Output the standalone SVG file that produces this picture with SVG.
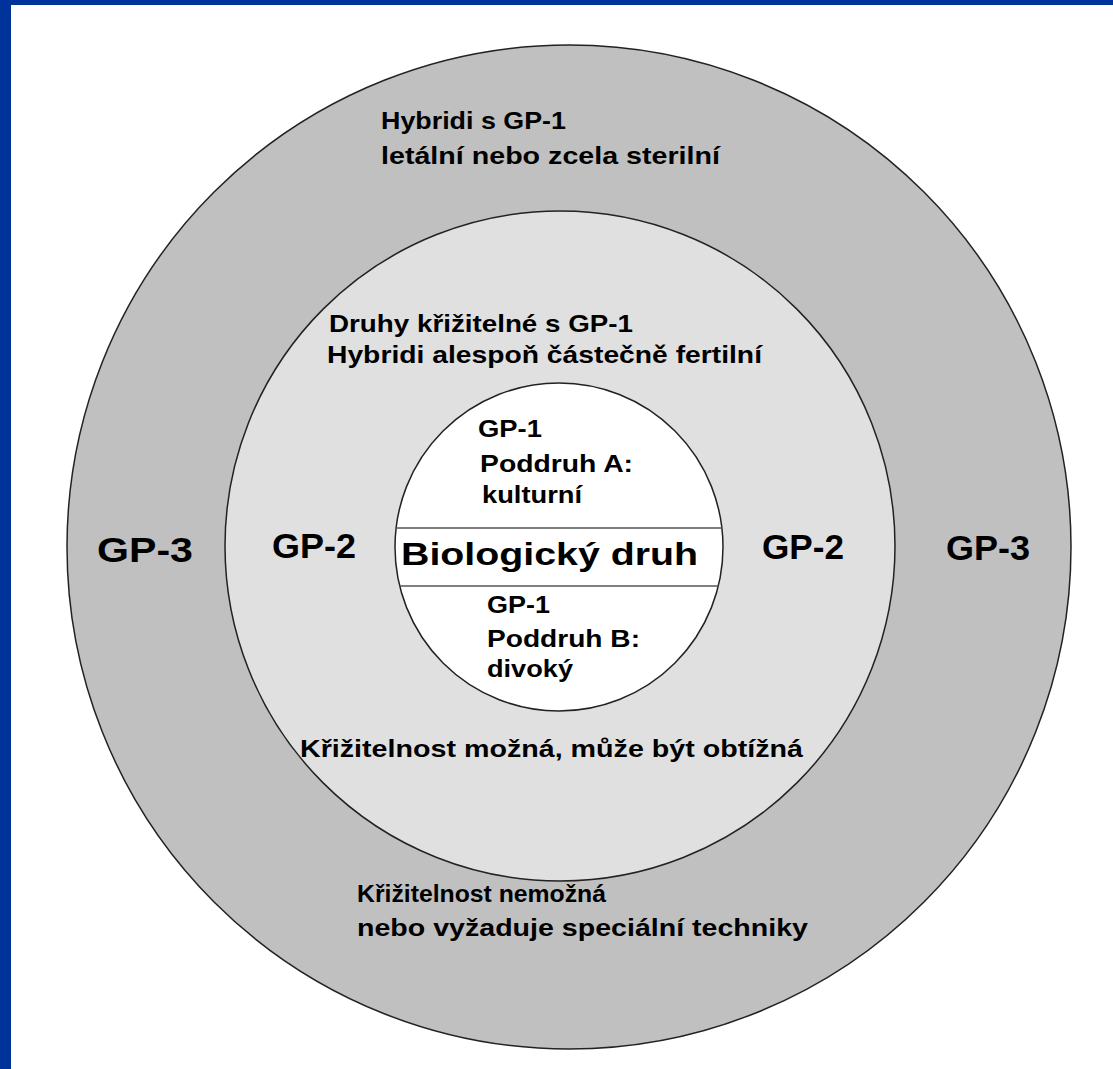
<svg xmlns="http://www.w3.org/2000/svg" width="1113" height="1069" viewBox="0 0 1113 1069">
<style>
text{font-family:"Liberation Sans",Arial,sans-serif;font-weight:bold;fill:#000;}
.s{font-size:24.5px;}
.b{font-size:35px;}
.c{font-size:32px;}
.ring{stroke:#222;stroke-width:1.5;}
.chord{stroke:#555;stroke-width:1.5;}
</style>
<rect x="0" y="0" width="1113" height="1069" fill="#fff"/>
<rect x="0" y="0" width="1113" height="5" fill="#003399"/>
<rect x="0" y="0" width="11" height="1069" fill="#003399"/>
<g id="gp3">
<circle class="ring" cx="569" cy="547" r="502" fill="#c0c0c0"/>
<text class="s" x="381" y="129" textLength="185" lengthAdjust="spacingAndGlyphs">Hybridi s GP-1</text>
<text class="s" x="381" y="164" textLength="339" lengthAdjust="spacingAndGlyphs">letální nebo zcela sterilní</text>
<text class="b" x="97" y="562" textLength="96" lengthAdjust="spacingAndGlyphs">GP-3</text>
<text class="b" x="946" y="560" textLength="84" lengthAdjust="spacingAndGlyphs">GP-3</text>
<text class="s" x="357" y="902" textLength="249" lengthAdjust="spacingAndGlyphs">Křižitelnost nemožná</text>
<text class="s" x="357" y="936" textLength="451" lengthAdjust="spacingAndGlyphs">nebo vyžaduje speciální techniky</text>
</g>
<g id="gp2">
<circle class="ring" cx="560" cy="546" r="335" fill="#e0e0e0"/>
<text class="s" x="329" y="332" textLength="304" lengthAdjust="spacingAndGlyphs">Druhy křižitelné s GP-1</text>
<text class="s" x="327" y="363" textLength="435" lengthAdjust="spacingAndGlyphs">Hybridi alespoň částečně fertilní</text>
<text class="b" x="272" y="558" textLength="84" lengthAdjust="spacingAndGlyphs">GP-2</text>
<text class="b" x="762" y="559" textLength="82" lengthAdjust="spacingAndGlyphs">GP-2</text>
<text class="s" x="300" y="757" textLength="503" lengthAdjust="spacingAndGlyphs">Křižitelnost možná, může být obtížná</text>
</g>
<g id="gp1">
<circle class="ring" cx="559" cy="547" r="164" fill="#fff"/>
<text class="s" x="478" y="437" textLength="64" lengthAdjust="spacingAndGlyphs">GP-1</text>
<text class="s" x="480" y="472" textLength="153" lengthAdjust="spacingAndGlyphs">Poddruh A:</text>
<text class="s" x="482" y="503" textLength="100" lengthAdjust="spacingAndGlyphs">kulturní</text>
<text class="c" x="401" y="565" textLength="297" lengthAdjust="spacingAndGlyphs">Biologický druh</text>
<text class="s" x="487" y="613" textLength="63" lengthAdjust="spacingAndGlyphs">GP-1</text>
<text class="s" x="487" y="647" textLength="153" lengthAdjust="spacingAndGlyphs">Poddruh B:</text>
<text class="s" x="487" y="677" textLength="86" lengthAdjust="spacingAndGlyphs">divoký</text>
</g>
<g id="connectors">
<line class="chord" x1="396.1" y1="528" x2="721.9" y2="528"/>
<line class="chord" x1="399.7" y1="586" x2="718.3" y2="586"/>
</g>
</svg>
